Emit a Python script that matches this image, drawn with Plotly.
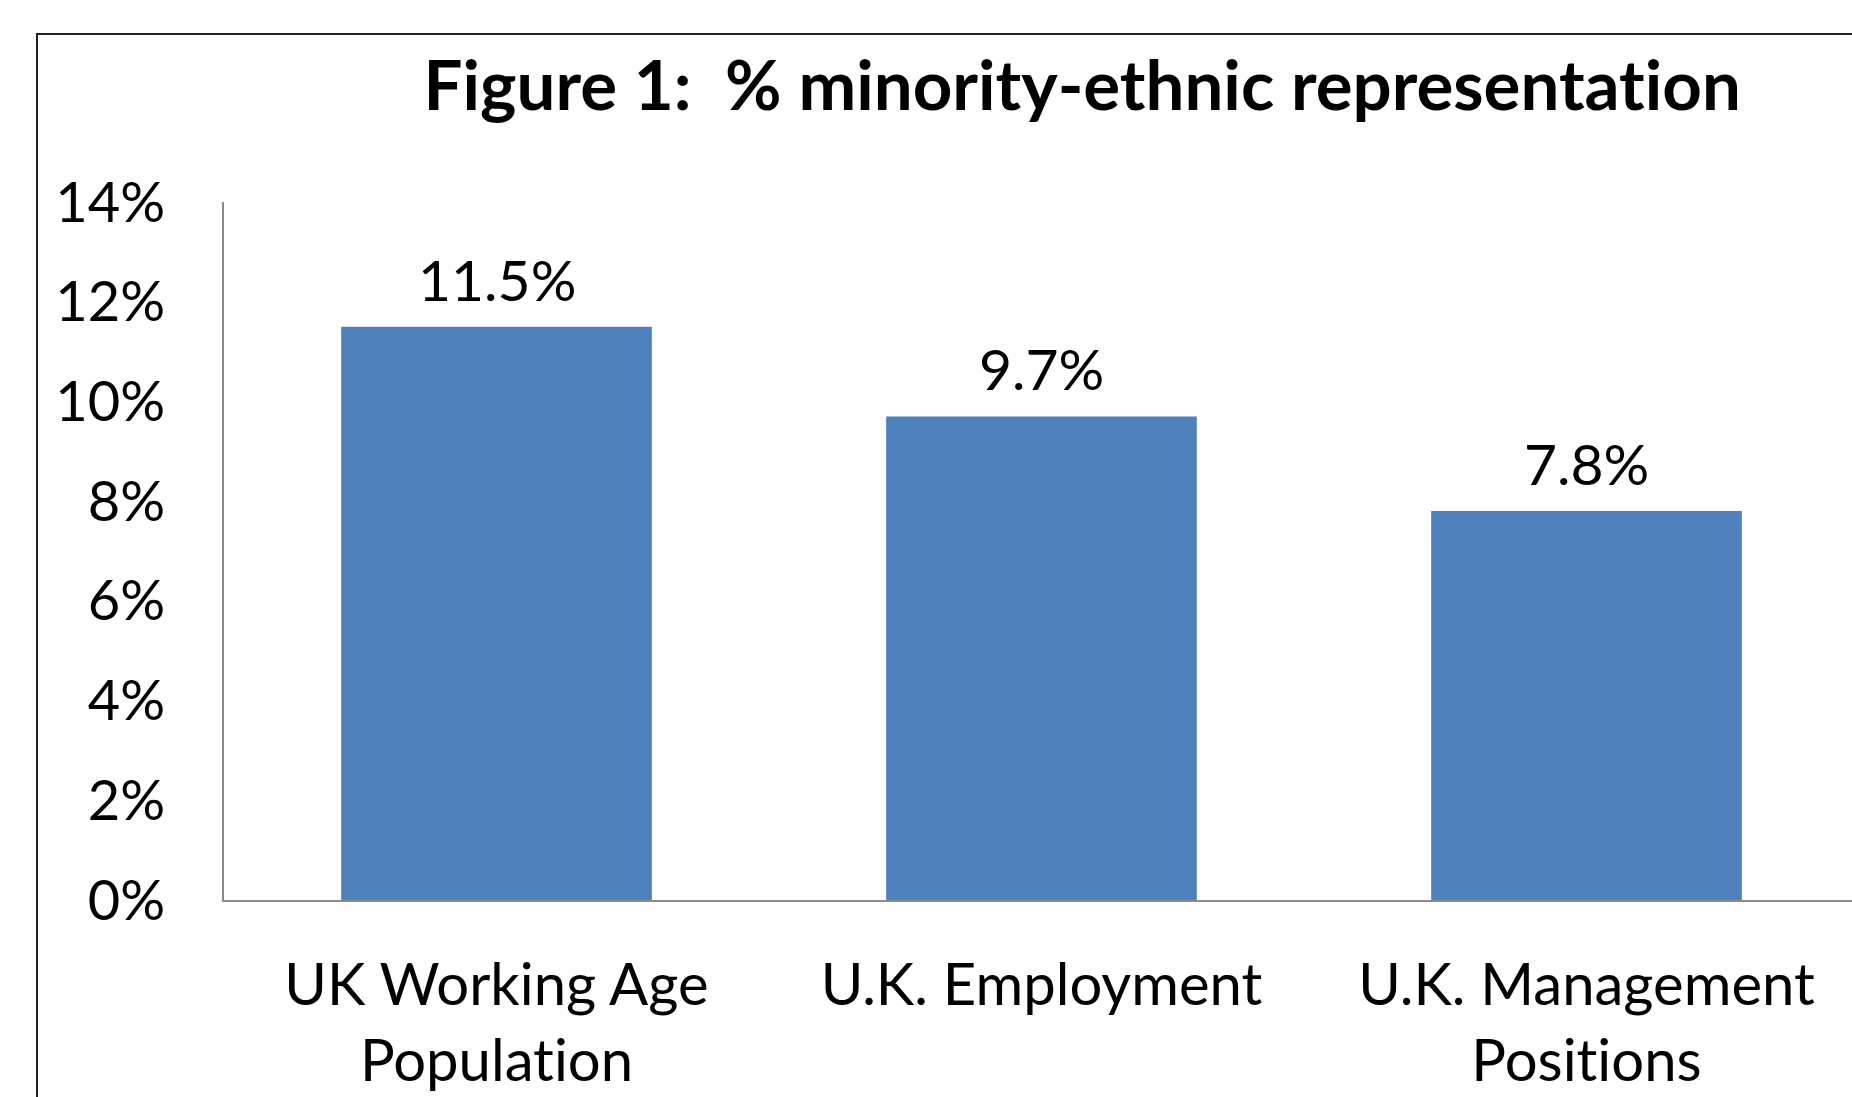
import plotly.graph_objects as go

categories = ["UK Working Age<br>Population", "U.K. Employment", "U.K. Management<br>Positions"]
values = [0.115, 0.097, 0.078]
value_labels = ["11.5%", "9.7%", "7.8%"]
y_ticks = [0, 0.02, 0.04, 0.06, 0.08, 0.10, 0.12, 0.14]
y_tick_labels = ["0%", "2%", "4%", "6%", "8%", "10%", "12%", "14%"]
title_text = "Figure 1:  % minority-ethnic representation"

W, H = 1852, 1097
ML, MR, MT, MB = 224, 0, 202, 197
plot_w = W - ML - MR
cat_px = 545.0
x_max = plot_w / cat_px - 0.5

FONT = "Lato"

fig = go.Figure()
fig.add_trace(go.Bar(
    x=list(range(len(categories))), y=values,
    marker=dict(color="#4F81BD", line=dict(width=0)),
    width=0.57,
    hoverinfo="skip",
))

for i, (v, t) in enumerate(zip(values, value_labels)):
    fig.add_annotation(x=i, y=v, text=t, showarrow=False, xref="x", yref="y",
                       yanchor="middle", yshift=48,
                       font=dict(family=FONT, size=57, color="black"))

ph = H - MT - MB
fig.add_annotation(xref="paper", yref="paper",
                   x=(1082 - ML) / plot_w, y=(H - MB - 83) / ph,
                   xanchor="center", yanchor="middle", showarrow=False,
                   text="<b>" + title_text + "</b>",
                   font=dict(family=FONT, size=69, color="black"))

fig.add_shape(type="rect", xref="paper", yref="paper",
              x0=(37 - ML) / plot_w, x1=1.2,
              y0=-0.5, y1=(H - MB - 34) / ph,
              line=dict(color="#222222", width=2), fillcolor="rgba(0,0,0,0)", layer="below")

fig.update_layout(
    width=W, height=H,
    margin=dict(l=ML, r=MR, t=MT, b=MB, pad=0),
    paper_bgcolor="white", plot_bgcolor="white",
    showlegend=False,
    xaxis=dict(
        range=[-0.5, x_max],
        tickmode="array", tickvals=list(range(len(categories))), ticktext=categories,
        showline=True, linecolor="#8c8c8c", linewidth=1.5,
        showgrid=False, zeroline=False, ticks="", ticklabelstandoff=34,
        tickfont=dict(family=FONT, size=58, color="black"),
        fixedrange=True,
    ),
    yaxis=dict(
        range=[0, 0.14],
        tickmode="array", tickvals=y_ticks, ticktext=y_tick_labels,
        showline=True, linecolor="#8c8c8c", linewidth=1.5,
        showgrid=False, zeroline=False, ticks="", ticklabelstandoff=46,
        tickfont=dict(family=FONT, size=56, color="black"),
        fixedrange=True,
    ),
)

post = ("var s=document.createElement('style');"
        "s.textContent='text{font-variant-ligatures:none;font-feature-settings:\"liga\" 0, \"clig\" 0;}';"
        "document.head.appendChild(s);")
fig.write_html("out.html", config={"displayModeBar": False}, post_script=post)
